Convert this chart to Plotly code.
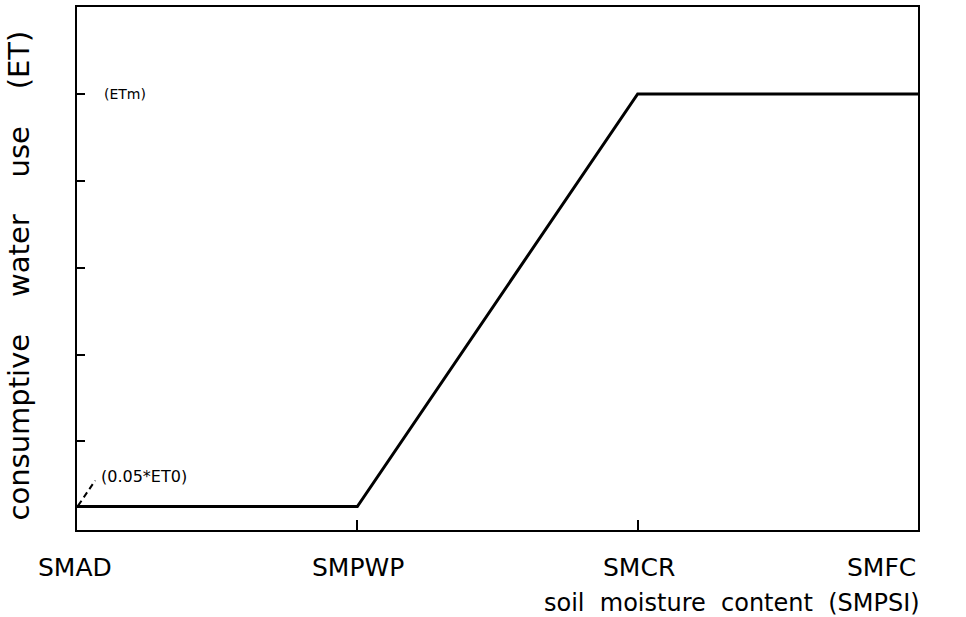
import plotly.graph_objects as go

# data
moisture_x = [0, 1, 2, 3]
et_y = [0.25, 0.25, 5, 5]
x_tick_vals = [0, 1, 2, 3]
x_tick_text = ["SMAD", "SMPWP", "SMCR", "SMFC"]
y_tick_vals = [1, 2, 3, 4, 5]

FONT = "DejaVu Sans, Liberation Sans, sans-serif"
NB = "\u00a0"

fig = go.Figure()
fig.add_trace(go.Scatter(x=moisture_x, y=et_y, mode="lines",
                         line=dict(color="black", width=3), showlegend=False,
                         hoverinfo="skip"))

fig.update_layout(
    width=966, height=617,
    margin=dict(l=77, r=48, t=5, b=87),
    paper_bgcolor="white", plot_bgcolor="white",
    font=dict(family=FONT, color="black"),
)
fig.update_xaxes(range=[0, 3], showgrid=False, zeroline=False,
                 showline=True, linecolor="black", linewidth=2, mirror=True,
                 ticks="inside", tickvals=[1, 2], ticklen=10, tickwidth=2,
                 tickcolor="black", showticklabels=False)
fig.update_yaxes(range=[-0.02, 6.0], showgrid=False, zeroline=False,
                 showline=True, linecolor="black", linewidth=2, mirror=True,
                 ticks="inside", tickvals=y_tick_vals, ticklen=8, tickwidth=2,
                 tickcolor="black", showticklabels=False)

# x tick labels as annotations
anchors = ["center", "center", "center", "right"]
shifts = [-2, 1, 1, 0]
for xv, txt, anc, sh in zip(x_tick_vals, x_tick_text, anchors, shifts):
    fig.add_annotation(x=xv, y=0, xref="x", yref="paper", text=txt,
                       showarrow=False, xanchor=anc, yanchor="middle",
                       xshift=sh, yshift=-37,
                       font=dict(size=25, family=FONT, color="black"))

# axis titles
gap2 = NB + " "
fig.add_annotation(x=1.005, y=0, xref="paper", yref="paper",
                   text=gap2.join(["soil", "moisture", "content", "(SMPSI)"]),
                   showarrow=False,
                   xanchor="right", yanchor="middle", yshift=-73,
                   font=dict(size=24, family=FONT, color="black"))
gap4 = NB + NB + NB + " "
fig.add_annotation(x=0, y=0.5, xref="paper", yref="paper",
                   text=gap4.join(["consumptive", "water", "use", "(ET)"]),
                   showarrow=False,
                   textangle=-90, xanchor="center", yanchor="middle",
                   xshift=-59, yshift=-7,
                   font=dict(size=29, family=FONT, color="black"))

# inner labels
fig.add_annotation(x=0, y=et_y[-1], xref="x", yref="y", text="(ETm)",
                   showarrow=False, xanchor="left", yanchor="middle",
                   xshift=25, font=dict(size=14, family=FONT, color="black"))
fig.add_annotation(x=0, y=et_y[0], xref="x", yref="y", text="(0.05*ET0)",
                   showarrow=False, xanchor="left", yanchor="middle",
                   xshift=22, yshift=30,
                   font=dict(size=16, family=FONT, color="black"))
fig.add_shape(type="line", xref="x", yref="y",
              x0=0.004, y0=et_y[0] + 0.01, x1=0.065, y1=et_y[0] + 0.30,
              line=dict(color="black", width=2, dash="6px,4px"))

fig.write_html("out.html", config={"displayModeBar": False},
               post_script="document.body.style.margin='0';")
